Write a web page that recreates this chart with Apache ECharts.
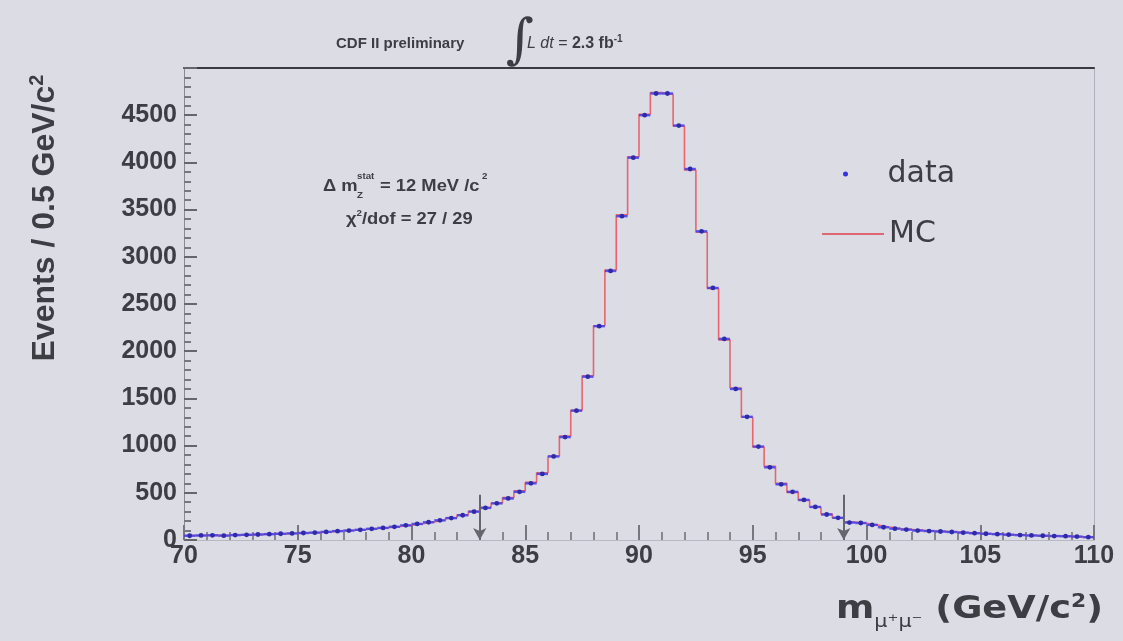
<!DOCTYPE html>
<html>
<head>
<meta charset="utf-8">
<script src="https://cdn.jsdelivr.net/npm/echarts@6/dist/echarts.min.js"></script>
<style>
html,body{margin:0;padding:0;background:#dcdce5;}
#chart{width:1123px;height:641px;}
</style>
</head>
<body>
<div id="chart"></div>
<script>
// Bin centres (GeV/c^2), 0.5 GeV bins from 70 to 110
const massBins = [
 70.25,70.75,71.25,71.75,72.25,72.75,73.25,73.75,74.25,74.75,
 75.25,75.75,76.25,76.75,77.25,77.75,78.25,78.75,79.25,79.75,
 80.25,80.75,81.25,81.75,82.25,82.75,83.25,83.75,84.25,84.75,
 85.25,85.75,86.25,86.75,87.25,87.75,88.25,88.75,89.25,89.75,
 90.25,90.75,91.25,91.75,92.25,92.75,93.25,93.75,94.25,94.75,
 95.25,95.75,96.25,96.75,97.25,97.75,98.25,98.75,99.25,99.75,
 100.25,100.75,101.25,101.75,102.25,102.75,103.25,103.75,104.25,104.75,
 105.25,105.75,106.25,106.75,107.25,107.75,108.25,108.75,109.25,109.75
];
const halfBin = 0.25;
// Data counts per bin
const dataCounts = [
 45,48,50,46,52,55,58,62,66,70,
 74,78,86,94,100,108,118,128,140,155,
 170,188,208,232,262,300,340,388,440,510,
 600,700,885,1090,1370,1730,2265,2850,3430,4050,
 4500,4730,4730,4390,3930,3270,2670,2130,1600,1305,
 990,770,590,510,425,350,270,235,185,180,
 160,135,120,110,100,95,90,85,78,72,
 66,62,56,52,48,45,42,40,36,30
];
// MC expectation per bin
const mcCounts = [
 48,47,49,50,53,56,60,63,67,71,
 76,81,88,96,103,111,121,131,143,157,
 173,192,212,236,268,305,345,392,450,520,
 610,712,890,1100,1375,1740,2270,2860,3445,4060,
 4510,4740,4720,4385,3920,3260,2665,2120,1610,1300,
 985,780,600,505,420,348,275,232,190,176,
 158,138,122,112,102,96,90,84,78,71,
 66,61,56,51,48,44,41,38,35,31
];
// Fit-range arrows
const fitRange = [83, 99];
const arrowTop = 480;
const xTicks = [70,75,80,85,90,95,100,105,110];
const yTicks = [0,500,1000,1500,2000,2500,3000,3500,4000,4500];

// step line points at bin low edges
const mcStep = massBins.map((c,i)=>[c-halfBin, mcCounts[i]]);
mcStep.push([massBins[massBins.length-1]+halfBin, mcCounts[mcCounts.length-1]]);

const txt = '#3d3d44';
const annFont = 'Liberation Sans';
const sx = 1.08;
const chart = echarts.init(document.getElementById('chart'), null, {renderer:'canvas'});
chart.setOption({
  backgroundColor:'#dcdce5',
  animation:false,
  grid:{left:184, right:29, top:68, bottom:101, show:false},
  legend:[
    {data:[{name:'data', icon:'circle'}], left:838, top:154, itemWidth:74, itemHeight:5,
     textStyle:{fontSize:30, color:txt, fontFamily:'DejaVu Sans'}, selectedMode:false},
    {data:[{name:'MC', icon:'rect'}], left:817, top:214, itemWidth:62, itemHeight:1.5,
     textStyle:{fontSize:30, color:txt, fontFamily:'DejaVu Sans'}, selectedMode:false}
  ],
  xAxis:[{
    type:'value', min:70, max:110, interval:5,
    axisLine:{show:true, lineStyle:{color:'#b8b8c2', width:1}},
    axisTick:{show:true, inside:true, length:15, lineStyle:{color:'#77777f', width:2}},
    minorTick:{show:true, splitNumber:5, length:8, lineStyle:{color:'#88888f', width:2}},
    splitLine:{show:false},
    axisLabel:{color:txt, fontSize:25, fontWeight:'bold', fontFamily:'Liberation Sans', margin:4,
      customValues: xTicks, formatter:(v)=>String(v)}
  },{
    type:'value', position:'top', min:70, max:110,
    axisLine:{show:true, onZero:false, lineStyle:{color:'#3a3a40', width:2}},
    axisTick:{show:false}, axisLabel:{show:false}, splitLine:{show:false}
  }],
  yAxis:[{
    type:'value', min:0, max:5000, interval:500,
    axisLine:{show:true, lineStyle:{color:'#8a8a92', width:1}},
    axisTick:{show:true, inside:true, length:13, lineStyle:{color:'#66666e', width:2}},
    minorTick:{show:true, splitNumber:5, length:7, lineStyle:{color:'#77777f', width:2}},
    splitLine:{show:false},
    axisLabel:{color:txt, fontSize:25, fontWeight:'bold', fontFamily:'Liberation Sans', margin:7,
      customValues: yTicks, formatter:(v)=>String(v)}
  },{
    type:'value', position:'right', min:0, max:5000,
    axisLine:{show:true, lineStyle:{color:'#b0b0ba', width:1}},
    axisTick:{show:false}, axisLabel:{show:false}, splitLine:{show:false}
  }],
  series:[
    {
      name:'MC', type:'line', step:'end', data:mcStep, symbol:'none',
      color:'#e0404c',
      lineStyle:{color:'#e8505a', width:1.6, opacity:0.85},
      z:2,
      markLine:{
        silent:true, symbol:['none','arrow'], symbolSize:[10,12],
        label:{show:false},
        lineStyle:{color:'#66666e', width:2, type:'solid'},
        data: fitRange.map(v=>[{coord:[v, arrowTop]},{coord:[v, 0]}])
      }
    },
    {
      name:'data', type:'custom', color:'#3434d8', z:3,
      data: massBins.map((c,i)=>[c, dataCounts[i]]),
      renderItem:function(params, api){
        const x = api.value(0), y = api.value(1);
        const p1 = api.coord([x-halfBin, y]);
        const p2 = api.coord([x+halfBin, y]);
        const c = api.coord([x, y]);
        return {type:'group', children:[
          {type:'line', shape:{x1:p1[0], y1:p1[1], x2:p2[0], y2:p2[1]}, style:{stroke:'#4a44e6', lineWidth:2.4, opacity:0.9}},
          {type:'circle', shape:{cx:c[0], cy:c[1], r:2.4}, style:{fill:'#2e2aa8'}}
        ]};
      }
    }
  ],
  graphic:[
    {type:'text', x:336, y:44, style:{text:'CDF II preliminary', fontSize:15, fontWeight:'bold', fill:txt, fontFamily:annFont, verticalAlign:'middle'}},
    {type:'text', x:506, y:43, style:{text:'∫', fontSize:54, fill:txt, fontFamily:'DejaVu Serif', verticalAlign:'middle'}},
    {type:'text', x:527, y:44, style:{
      text:'{i|L dt} = {b|2.3 fb}{s|-1}', verticalAlign:'middle',
      rich:{
        i:{fontSize:16, fontStyle:'italic', fill:txt, fontFamily:annFont},
        b:{fontSize:16, fontWeight:'bold', fill:txt, fontFamily:annFont},
        s:{fontSize:10, fontWeight:'bold', fill:txt, fontFamily:annFont, padding:[0,0,9,0]}
      }, fontSize:16, fill:txt, fontFamily:annFont}},
    // Δ m_Z^stat annotation
    {type:'text', x:323, y:186, scaleX:sx, style:{text:'Δ m', fontSize:17, fontWeight:'bold', fill:txt, fontFamily:annFont, verticalAlign:'middle'}},
    {type:'text', x:357, y:177, scaleX:sx, style:{text:'stat', fontSize:9, fontWeight:'bold', fill:txt, fontFamily:annFont, verticalAlign:'middle'}},
    {type:'text', x:357, y:196, scaleX:sx, style:{text:'Z', fontSize:9, fontWeight:'bold', fill:txt, fontFamily:annFont, verticalAlign:'middle'}},
    {type:'text', x:380, y:186, scaleX:sx, style:{text:'= 12 MeV /c', fontSize:17, fontWeight:'bold', fill:txt, fontFamily:annFont, verticalAlign:'middle'}},
    {type:'text', x:482, y:177, scaleX:sx, style:{text:'2', fontSize:9, fontWeight:'bold', fill:txt, fontFamily:annFont, verticalAlign:'middle'}},
    {type:'text', x:346, y:219, scaleX:sx, style:{
      text:'χ{s|2}/dof = 27 / 29', verticalAlign:'middle',
      rich:{s:{fontSize:9, fontWeight:'bold', fill:txt, fontFamily:annFont, padding:[0,0,10,0]}},
      fontSize:17, fontWeight:'bold', fill:txt, fontFamily:annFont}},
    // y axis title
    {type:'text', x:45, y:218, rotation:Math.PI/2, style:{
      text:'Events / 0.5 GeV/c{s|2}', align:'center', verticalAlign:'middle',
      rich:{s:{fontSize:20, fontWeight:'bold', fill:txt, fontFamily:'Liberation Sans', padding:[0,0,16,0]}},
      fontSize:32, fontWeight:'bold', fill:txt, fontFamily:'Liberation Sans'}},
    // x axis title
    {type:'text', x:836, y:610, scaleX:1.15, style:{
      text:'m{sub|μ⁺μ⁻} (GeV/c{s|2})', verticalAlign:'middle',
      rich:{
        sub:{fontSize:18, fill:txt, fontFamily:'DejaVu Sans', padding:[24,0,0,0]},
        s:{fontSize:19, fontWeight:'bold', fill:txt, fontFamily:'DejaVu Sans', padding:[0,0,15,0]}
      },
      fontSize:32, fontWeight:'bold', fill:txt, fontFamily:'DejaVu Sans'}}
  ]
});
</script>
</body>
</html>
